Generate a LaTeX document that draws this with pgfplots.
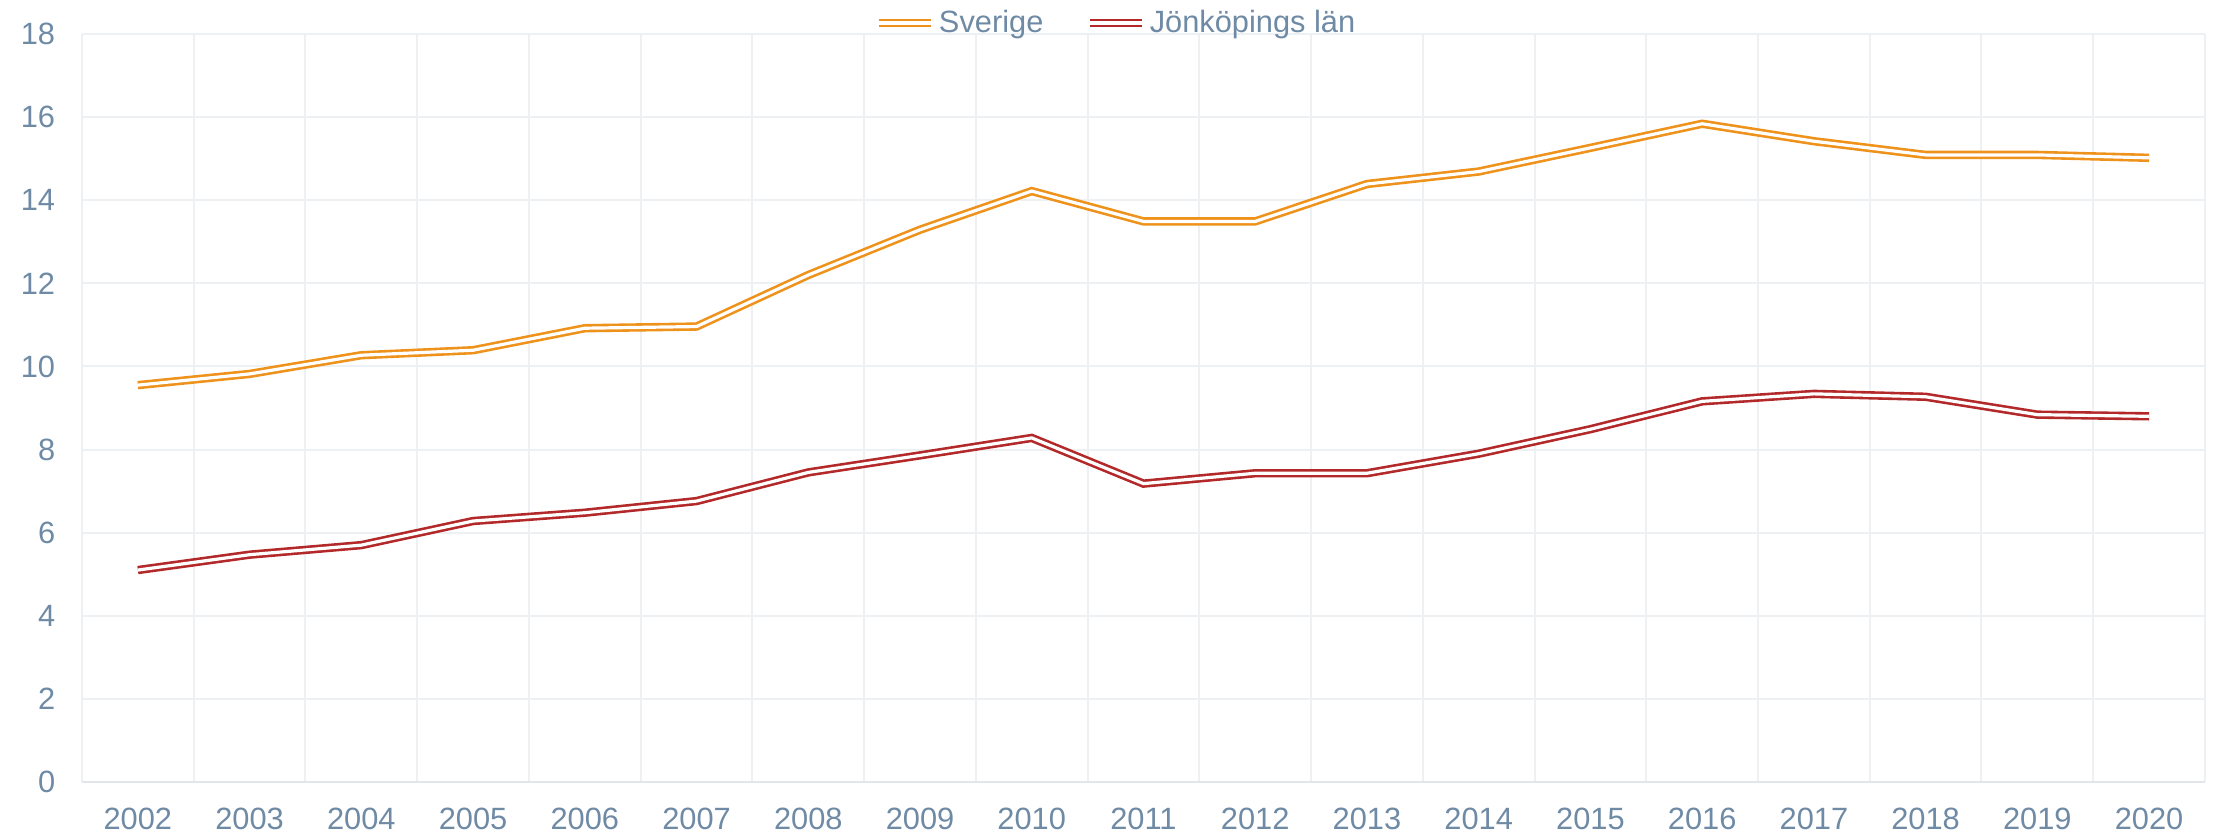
\documentclass[border=0pt]{standalone}
\usepackage{pgfplots}
\pgfplotsset{compat=1.18}
\usepackage{fontspec}
\setmainfont{Liberation Sans}
\definecolor{txt}{HTML}{6F8AA5}
\definecolor{gridc}{HTML}{EEF1F4}
\definecolor{axc}{HTML}{E2E6EB}
\definecolor{sverige}{HTML}{EE921B}
\definecolor{jkp}{HTML}{B3292A}
\begin{document}
\begin{tikzpicture}
\useasboundingbox (-41pt,-26.5pt) rectangle (1068pt,391pt);
\begin{axis}[
  at={(0,0)}, anchor=south west,
  scale only axis, width=1061.5pt, height=374pt,
  xmin=-0.5, xmax=18.5, ymin=0, ymax=18,
  xtick={0,...,18},
  xticklabels={2002,2003,2004,2005,2006,2007,2008,2009,2010,2011,2012,2013,2014,2015,2016,2017,2018,2019,2020},
  minor xtick={-0.5,0.5,...,18.5},
  ytick={0,2,...,18},
  xmajorgrids=false, xminorgrids=true, ymajorgrids=true,
  grid style={gridc, line width=1pt},
  minor grid style={gridc, line width=1pt},
  axis line style={draw=none},
  major tick length=0pt, minor tick length=0pt,
  tick style={draw=none},
  /pgf/number format/assume math mode=true,
  ticklabel style={font=\fontsize{15.4}{18}\selectfont, text=txt},
  xticklabel style={yshift=-9.5pt},
  yticklabel style={xshift=-9.9pt},
  legend style={at={(0.4875,1)}, anchor=center, yshift=5.5pt, draw=none, fill=none,
    font=\fontsize{15.4}{18}\selectfont, text=txt, inner sep=0pt,
    /tikz/every even column/.append style={column sep=19pt}},
  legend columns=2,
  legend image code/.code={\draw[#1] (0pt,0pt) -- (26pt,0pt);},
  every axis plot/.append style={line width=1.3pt, double=white, double distance=1.6pt},
  clip=false,
]
\draw[axc, line width=1pt] (axis cs:-0.5,0) -- (axis cs:18.5,0);
\addplot[sverige] coordinates {
(0,9.55) (1,9.82) (2,10.27) (3,10.39) (4,10.92) (5,10.96) (6,12.20) (7,13.29) (8,14.22) (9,13.49)
(10,13.49) (11,14.39) (12,14.69) (13,15.26) (14,15.84) (15,15.42) (16,15.09) (17,15.09) (18,15.02)};
\addlegendentry{Sverige}
\addplot[jkp] coordinates {
(0,5.10) (1,5.47) (2,5.70) (3,6.28) (4,6.48) (5,6.76) (6,7.45) (7,7.86) (8,8.28) (9,7.18)
(10,7.43) (11,7.43) (12,7.90) (13,8.49) (14,9.16) (15,9.34) (16,9.27) (17,8.84) (18,8.80)};
\addlegendentry{Jönköpings län}
\end{axis}
\end{tikzpicture}
\end{document}
